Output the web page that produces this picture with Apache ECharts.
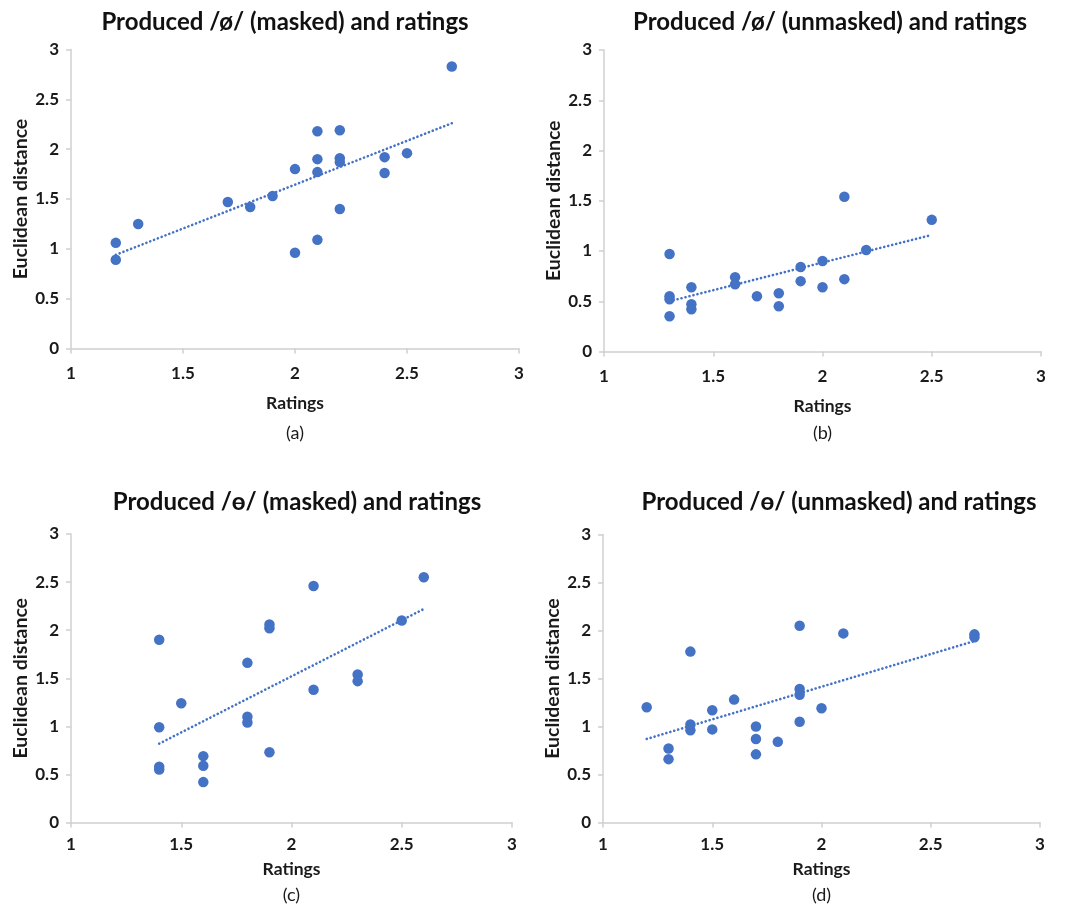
<!DOCTYPE html>
<html>
<head>
<meta charset="utf-8">
<title>Produced sounds and ratings</title>
<script src="https://cdn.jsdelivr.net/npm/echarts@6/dist/echarts.min.js"></script>
<style>
  html, body { margin: 0; padding: 0; background: #ffffff; }
  #chart { width: 1073px; height: 905px; }
</style>
</head>
<body>
<div id="chart"></div>
<script>
// Ratings (x) and Euclidean distances (y) for each speaker, per panel
const ratingsA = [1.2, 1.2, 1.3, 1.7, 1.8, 1.9, 2.0, 2.0, 2.1, 2.1, 2.1, 2.1, 2.2, 2.2, 2.2, 2.2, 2.4, 2.4, 2.5, 2.7];
const distA    = [1.06, 0.89, 1.25, 1.47, 1.42, 1.53, 1.80, 0.96, 2.18, 1.90, 1.77, 1.09, 2.19, 1.91, 1.87, 1.40, 1.92, 1.76, 1.96, 2.83];

const ratingsB = [1.3, 1.3, 1.3, 1.3, 1.4, 1.4, 1.4, 1.6, 1.6, 1.7, 1.8, 1.8, 1.9, 1.9, 2.0, 2.0, 2.1, 2.1, 2.2, 2.5];
const distB    = [0.97, 0.55, 0.52, 0.35, 0.64, 0.47, 0.42, 0.74, 0.67, 0.55, 0.58, 0.45, 0.84, 0.70, 0.90, 0.64, 1.54, 0.72, 1.01, 1.31];

const ratingsC = [1.4, 1.4, 1.4, 1.4, 1.5, 1.6, 1.6, 1.6, 1.8, 1.8, 1.8, 1.9, 1.9, 1.9, 2.1, 2.1, 2.3, 2.3, 2.5, 2.6];
const distC    = [1.90, 0.99, 0.58, 0.55, 1.24, 0.69, 0.59, 0.42, 1.66, 1.10, 1.04, 2.06, 2.02, 0.73, 2.46, 1.38, 1.54, 1.47, 2.10, 2.55];

const ratingsD = [1.2, 1.3, 1.3, 1.4, 1.4, 1.4, 1.5, 1.5, 1.6, 1.7, 1.7, 1.7, 1.8, 1.9, 1.9, 1.9, 1.9, 2.0, 2.1, 2.7, 2.7];
const distD    = [1.20, 0.77, 0.66, 1.78, 1.02, 0.96, 1.17, 0.97, 1.28, 1.00, 0.87, 0.71, 0.84, 2.05, 1.39, 1.33, 1.05, 1.19, 1.97, 1.96, 1.93];

// Linear trendline end points [rating, distance]
const trendA = [[1.2, 0.94], [2.7, 2.26]];
const trendB = [[1.3, 0.50], [2.5, 1.16]];
const trendC = [[1.4, 0.82], [2.6, 2.22]];
const trendD = [[1.2, 0.87], [2.7, 1.89]];

const titles   = ['Produced /ø/ (masked) and ratings', 'Produced /ø/ (unmasked) and ratings',
                  'Produced /ɵ/ (masked) and ratings', 'Produced /ɵ/ (unmasked) and ratings'];
const captions = ['(a)', '(b)', '(c)', '(d)'];
const xTicks = { min: 1, max: 3, interval: 0.5 };
const yTicks = { min: 0, max: 3, interval: 0.5 };

const FONT = 'Lato, "Open Sans", "DejaVu Sans", sans-serif';
const BLUE = '#4472C4';
const AXIS = '#d0d0d0';
const INK  = '#1a1a1a';

// plot-area boxes: left, top, width, height
const boxes = [
  { left: 71,  top: 49.5, width: 448, height: 299 },
  { left: 604, top: 50,   width: 437, height: 301.5 },
  { left: 71,  top: 534,  width: 441, height: 288.5 },
  { left: 603, top: 534.5, width: 437, height: 288 }
];
const titleCenters   = [[285, 22], [830, 22], [297, 502], [839, 502]];
const captionCenters = [433, 433, 895, 895];
const xNameGaps  = [46, 46, 38, 38];
const xLabelGaps = [17, 17, 14, 14];

const pairs = (xs, ys) => xs.map((x, i) => [x, ys[i]]);
const scatterData = [pairs(ratingsA, distA), pairs(ratingsB, distB), pairs(ratingsC, distC), pairs(ratingsD, distD)];
const trends = [trendA, trendB, trendC, trendD];

const grid = [], xAxis = [], yAxis = [], series = [], graphic = [];

boxes.forEach((b, i) => {
  grid.push({ left: b.left, top: b.top, width: b.width, height: b.height, containLabel: false });
  xAxis.push({
    gridIndex: i, type: 'value', min: xTicks.min, max: xTicks.max, interval: xTicks.interval,
    name: 'Ratings', nameLocation: 'middle', nameGap: xNameGaps[i],
    nameTextStyle: { fontFamily: FONT, fontWeight: 'bold', fontSize: 17.5, color: INK },
    axisLine: { show: true, lineStyle: { color: AXIS, width: 1.5 } },
    axisTick: { show: true, length: 5, lineStyle: { color: AXIS, width: 1.5 } },
    splitLine: { show: false },
    axisLabel: { fontFamily: FONT, fontWeight: 'bold', fontSize: 17, color: INK, margin: xLabelGaps[i] }
  });
  yAxis.push({
    gridIndex: i, type: 'value', min: yTicks.min, max: yTicks.max, interval: yTicks.interval,
    name: 'Euclidean distance', nameLocation: 'middle', nameGap: 40, nameRotate: 90,
    nameTextStyle: { fontFamily: FONT, fontWeight: 'bold', fontSize: 19.5, color: INK },
    axisLine: { show: true, lineStyle: { color: AXIS, width: 1.5 } },
    axisTick: { show: true, length: 5, lineStyle: { color: AXIS, width: 1.5 } },
    splitLine: { show: false },
    axisLabel: { fontFamily: FONT, fontWeight: 'bold', fontSize: 17, color: INK, margin: 12 }
  });
  series.push({
    type: 'line', xAxisIndex: i, yAxisIndex: i, data: trends[i],
    symbol: 'none', silent: true, z: 1,
    lineStyle: { color: BLUE, width: 2.6, type: [0.1, 4], cap: 'round' }
  });
  series.push({
    type: 'scatter', xAxisIndex: i, yAxisIndex: i, data: scatterData[i],
    symbol: 'circle', symbolSize: 10.5, z: 2,
    itemStyle: { color: BLUE, opacity: 1 }
  });
  graphic.push({
    type: 'text', x: titleCenters[i][0], y: titleCenters[i][1],
    style: { text: titles[i], fontFamily: FONT, fontWeight: 'bold', fontSize: 24, fill: '#111111',
             align: 'center', verticalAlign: 'middle' }
  });
  graphic.push({
    type: 'text', x: b.left + b.width / 2, y: captionCenters[i],
    style: { text: captions[i], fontFamily: FONT, fontSize: 18, fill: INK,
             align: 'center', verticalAlign: 'middle' }
  });
});

const chart = echarts.init(document.getElementById('chart'), null, { renderer: 'canvas' });
chart.setOption({
  animation: false,
  backgroundColor: '#ffffff',
  grid, xAxis, yAxis, series, graphic
});
</script>
</body>
</html>
